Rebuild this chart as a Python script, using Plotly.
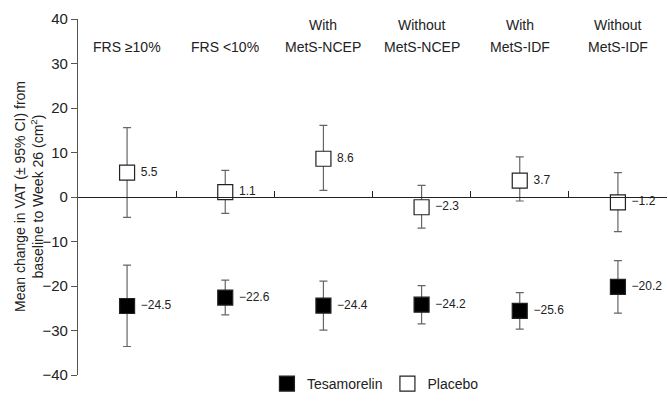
import plotly.graph_objects as go

categories_top = ["", "", "With", "Without", "With", "Without"]
categories_bottom = ["FRS ≥10%", "FRS <10%", "MetS-NCEP", "MetS-NCEP", "MetS-IDF", "MetS-IDF"]

tes_mean = [-24.5, -22.6, -24.4, -24.2, -25.6, -20.2]
tes_upper = [-15.3, -18.7, -18.9, -19.9, -21.5, -14.3]
tes_lower = [-33.6, -26.5, -29.9, -28.5, -29.7, -26.1]

pla_mean = [5.5, 1.1, 8.6, -2.3, 3.7, -1.2]
pla_upper = [15.6, 6.0, 16.1, 2.6, 9.0, 5.5]
pla_lower = [-4.6, -3.7, 1.5, -7.0, -0.9, -7.8]

yticks = [-40, -30, -20, -10, 0, 10, 20, 30, 40]
ytick_text = ["\u221240", "\u221230", "\u221220", "\u221210", "0", "10", "20", "30", "40"]
y_title = "Mean change in VAT (\u00b1 95% CI) from<br>baseline to Week 26 (cm<sup>2</sup>)"

xpos = [i + 0.5 for i in range(len(categories_bottom))]

def fmt(v):
    return ("\u2212" + f"{abs(v):.1f}") if v < 0 else f"{v:.1f}"

FONT = "Liberation Sans, Arial, sans-serif"
H = 403
W = 668
L = 78
fig = go.Figure()

for name, mean, up, lo, fill in [
    ("Tesamorelin", tes_mean, tes_upper, tes_lower, "black"),
    ("Placebo", pla_mean, pla_upper, pla_lower, "white"),
]:
    fig.add_trace(go.Scatter(
        x=xpos, y=mean, mode="markers+text", name=name,
        text=[" " + fmt(v) for v in mean], textposition="middle right",
        textfont=dict(family=FONT, size=12, color="#222"),
        marker=dict(symbol="square", size=15, color=fill, line=dict(color="#222", width=1.2)),
        error_y=dict(type="data", symmetric=False,
                     array=[u - m for u, m in zip(up, mean)],
                     arrayminus=[m - l for m, l in zip(mean, lo)],
                     color="#666", thickness=1.2, width=4),
        cliponaxis=False,
    ))

annotations = []
for x, t, b in zip(xpos, categories_top, categories_bottom):
    if t:
        annotations.append(dict(x=x, y=38.6, xref="x", yref="y", text=t, showarrow=False,
                                font=dict(family=FONT, size=14, color="#222"), yanchor="middle"))
    annotations.append(dict(x=x, y=33.6, xref="x", yref="y", text=b, showarrow=False,
                            font=dict(family=FONT, size=14, color="#222"), yanchor="middle"))

annotations.append(dict(x=(29 - L) / (W - L - 1), y=0, xref="paper", yref="y", text=y_title,
                        showarrow=False, textangle=-90, xanchor="center", yanchor="middle",
                        font=dict(family=FONT, size=14, color="#222")))

ydom = [28 / H, 384 / H]
fig.update_layout(
    width=W, height=H,
    margin=dict(l=L, r=1, t=0, b=0),
    paper_bgcolor="white", plot_bgcolor="white",
    font=dict(family=FONT, size=14, color="#222"),
    showlegend=True,
    legend=dict(orientation="h", x=0.505, xanchor="center", y=19 / H, yanchor="middle",
                font=dict(family=FONT, size=14, color="#222"), itemwidth=30,
                bgcolor="rgba(0,0,0,0)"),
    xaxis=dict(range=[0, 6], anchor="free", position=(ydom[0] + ydom[1]) / 2, showline=True,
               linecolor="#222", linewidth=1.3, ticks="inside", ticklen=6, tickcolor="#222",
               automargin=False, tickvals=[1, 2, 3, 4, 5, 6], showticklabels=False,
               showgrid=False, zeroline=False),
    yaxis=dict(range=[-40, 40], domain=ydom, tickvals=yticks, ticktext=ytick_text, showline=True,
               automargin=False, linecolor="#555", linewidth=1.3, ticks="outside", ticklen=6,
               tickcolor="#555", showgrid=False, zeroline=False,
               tickfont=dict(family=FONT, size=15, color="#222")),
    annotations=annotations,
)

fig.write_html("out.html", config={"displayModeBar": False},
               post_script="document.body.style.margin='0';document.body.style.overflow='hidden';")
